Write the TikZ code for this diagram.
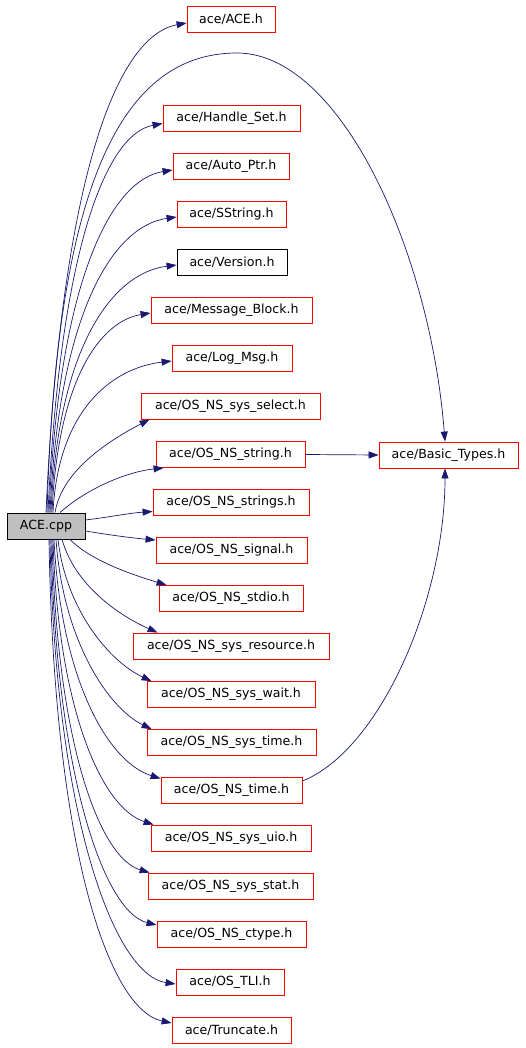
\documentclass[tikz,border=0pt]{standalone}
\usepackage{fontspec}
\setmainfont{DejaVu Sans}
\usetikzlibrary{arrows.meta}
\definecolor{edgeblue}{HTML}{191970}
\definecolor{cppgray}{HTML}{BFBFBF}
\begin{document}
\begin{tikzpicture}[x=1pt,y=-1pt,
  box/.style={draw=red, line width=0.8pt, minimum height=26pt, inner sep=0pt,
    font=\fontsize{12.6}{14}\selectfont, text=black},
  blackbox/.style={box, draw=black},
  srcbox/.style={box, draw=black, fill=cppgray},
  edge/.style={draw=edgeblue, line width=0.7pt, -{Triangle[length=10pt,width=7pt]}}]
\useasboundingbox (0,0) rectangle (525,1048);

% nodes
\node[box, minimum width=88pt]  (ace) at (231,19.5)  {ace/ACE.h};
\node[box, minimum width=137pt] (hs)  at (231.5,118.5) {ace/Handle\_Set.h};
\node[box, minimum width=116pt] (ap)  at (231,166.5) {ace/Auto\_Ptr.h};
\node[box, minimum width=109pt] (ss)  at (231.5,214.5) {ace/SString.h};
\node[blackbox, minimum width=110pt] (ver) at (232,262.5) {ace/Version.h};
\node[box, minimum width=161pt] (mb)  at (231.5,310) {ace/Message\_Block.h};
\node[box, minimum width=120pt] (lm)  at (232,358) {ace/Log\_Msg.h};
\node[box, minimum width=179pt] (sel) at (230.5,406) {ace/OS\_NS\_sys\_select.h};
\node[box, minimum width=149pt] (ns)  at (230.5,454.5) {ace/OS\_NS\_string.h};
\node[box, minimum width=139pt] (bt)  at (448.5,455) {ace/Basic\_Types.h};
\node[srcbox, minimum width=78pt] (cpp) at (46,526) {ACE.cpp};
\node[box, minimum width=156pt] (str) at (231,502) {ace/OS\_NS\_strings.h};
\node[box, minimum width=151pt] (sig) at (231.5,550) {ace/OS\_NS\_signal.h};
\node[box, minimum width=144pt] (std) at (231,598.5) {ace/OS\_NS\_stdio.h};
\node[box, minimum width=196pt] (res) at (231,646) {ace/OS\_NS\_sys\_resource.h};
\node[box, minimum width=168pt] (wai) at (231,694.5) {ace/OS\_NS\_sys\_wait.h};
\node[box, minimum width=169pt] (tim) at (231.5,742.5) {ace/OS\_NS\_sys\_time.h};
\node[box, minimum width=141pt] (ost) at (231.5,790) {ace/OS\_NS\_time.h};
\node[box, minimum width=160pt] (uio) at (231,838) {ace/OS\_NS\_sys\_uio.h};
\node[box, minimum width=165pt] (sta) at (230.5,886) {ace/OS\_NS\_sys\_stat.h};
\node[box, minimum width=149pt] (ct)  at (231.5,934.5) {ace/OS\_NS\_ctype.h};
\node[box, minimum width=108pt] (tli) at (230,982) {ace/OS\_TLI.h};
\node[box, minimum width=119pt] (tr)  at (231.5,1030) {ace/Truncate.h};

% upward edges
\draw[edge] (cpp.north) .. controls (61,180) and (116,36) .. ([yshift=-3.5pt]ace.west);
\draw[edge] ([xshift=1pt]cpp.north) .. controls (56,200) and (115,53) .. (237,53)
  .. controls (340,53) and (430,250) .. ([xshift=-3.5pt]bt.north);
\draw[edge] ([xshift=2pt]cpp.north) .. controls (60,249) and (106,134) .. ([yshift=-5pt]hs.west);
\draw[edge] ([xshift=3pt]cpp.north) .. controls (59,280) and (111,180) .. ([yshift=-3.5pt]ap.west);
\draw[edge] ([xshift=4pt]cpp.north) .. controls (59,312) and (113,226) .. ([yshift=-2.5pt]ss.west);
\draw[edge] ([xshift=5pt]cpp.north) .. controls (58,345) and (113,273) .. ([yshift=-2.5pt]ver.west);
\draw[edge] ([xshift=6pt]cpp.north) .. controls (58,378) and (101,321) .. ([yshift=-3pt]mb.west);
\draw[edge] ([xshift=7pt]cpp.north) .. controls (58,410) and (112,368) .. ([yshift=-3pt]lm.west);
\draw[edge] ([xshift=9pt]cpp.north) .. controls (62,470) and (110,440) .. ([xshift=9pt]sel.south west);
\draw[edge] ([xshift=14pt]cpp.north) .. controls (85,490) and (125,472) .. ([xshift=8pt]ns.south west);

% sideways
\draw[edge] ([yshift=6pt]cpp.east) .. controls (110,517) and (130,513) .. ([yshift=-9.5pt]str.west);
\draw[edge] ([yshift=-5pt]cpp.east) .. controls (110,535) and (132,538) .. ([yshift=10pt]sig.west);

% downward edges
\draw[edge] ([xshift=24pt]cpp.south) .. controls (90,560) and (130,574) .. ([xshift=8pt]std.north west);
\draw[edge] ([xshift=16pt]cpp.south) .. controls (75,585) and (118,615) .. ([xshift=25pt]res.north west);
\draw[edge] ([xshift=12pt]cpp.south) .. controls (66,610) and (110,662) .. ([xshift=5pt]wai.north west);
\draw[edge] ([xshift=10pt]cpp.south) .. controls (63,640) and (108,708) .. ([xshift=5pt]tim.north west);
\draw[edge] ([xshift=8pt]cpp.south) .. controls (61,680) and (108,762) .. ([yshift=-2pt]ost.north west);
\draw[edge] ([xshift=7pt]cpp.south) .. controls (58,710) and (102,808) .. ([xshift=3pt]uio.north west);
\draw[edge] ([xshift=6pt]cpp.south) .. controls (57,745) and (100,858) .. ([xshift=2pt]sta.north west);
\draw[edge] ([xshift=5pt]cpp.south) .. controls (56,775) and (104,912) .. ([yshift=9.5pt]ct.west);
\draw[edge] ([xshift=4pt]cpp.south) .. controls (55,815) and (114,975) .. ([yshift=-2pt]tli.west);
\draw[edge] ([xshift=3pt]cpp.south) .. controls (54,855) and (110,1010) .. ([yshift=7pt]tr.west);

% edges to Basic_Types
\draw[edge] (ns.east) -- (bt.west);
\draw[edge] ([yshift=9pt]ost.east) .. controls (380,750) and (445,600) .. ([xshift=-3.5pt]bt.south);
\end{tikzpicture}
\end{document}
